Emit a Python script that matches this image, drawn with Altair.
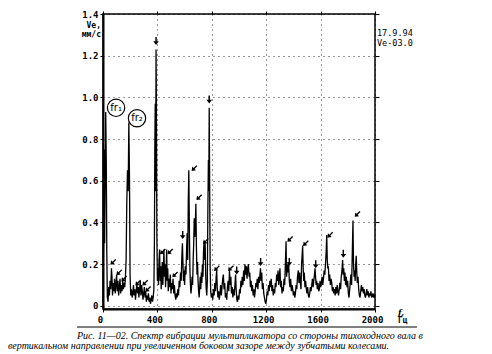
import altair as alt
import pandas as pd

# ---- spectrum (frequency, Hz / velocity, mm/s) ----
freq = [0, 5, 9, 12, 16, 20, 24, 28, 32, 37, 42, 47, 52, 57, 62, 66, 70, 75, 80, 85,
        90, 95, 100, 105, 110, 115, 120, 125, 130, 135, 140, 145, 150, 155, 160, 165, 170, 175, 180, 185,
        190, 195, 199, 204, 209, 214, 219, 224, 229, 234, 239, 244, 249, 254, 259, 264, 269, 274, 279, 284,
        289, 294, 299, 304, 309, 314, 319, 324, 329, 334, 339, 344, 349, 354, 359, 364, 369, 374, 378, 381,
        384, 387, 390, 393, 396, 400, 404, 408, 412, 416, 420, 424, 428, 432, 436, 440, 444, 448, 452, 456,
        460, 464, 468, 472, 476, 480, 485, 490, 495, 500, 505, 510, 515, 520, 525, 530, 535, 540, 545, 550,
        555, 560, 565, 570, 575, 580, 584, 588, 592, 596, 600, 605, 610, 615, 619, 623, 627, 631, 635, 639,
        643, 647, 651, 655, 659, 663, 667, 671, 675, 679, 683, 687, 691, 695, 699, 703, 707, 711, 715, 719,
        723, 727, 731, 735, 739, 743, 747, 751, 755, 759, 763, 767, 771, 775, 778, 781, 784, 788, 792, 797,
        802, 807, 812, 817, 822, 827, 832, 836, 840, 845, 850, 855, 860, 865, 870, 875, 880, 885, 890, 895,
        900, 905, 910, 915, 920, 925, 930, 935, 940, 945, 950, 955, 960, 965, 970, 975, 979, 984, 989, 994,
        999, 1004, 1009, 1014, 1019, 1024, 1029, 1034, 1039, 1044, 1049, 1054, 1059, 1064, 1069, 1074, 1079, 1084, 1089, 1094,
        1099, 1104, 1109, 1114, 1119, 1124, 1129, 1134, 1139, 1144, 1149, 1154, 1158, 1162, 1167, 1172, 1177, 1182, 1187, 1192,
        1197, 1202, 1207, 1212, 1217, 1222, 1227, 1232, 1237, 1242, 1247, 1252, 1257, 1262, 1267, 1272, 1277, 1282, 1287, 1292,
        1297, 1301, 1306, 1311, 1316, 1321, 1326, 1331, 1336, 1341, 1346, 1350, 1355, 1360, 1365, 1370, 1375, 1380, 1385, 1390,
        1395, 1400, 1405, 1410, 1415, 1420, 1425, 1430, 1436, 1441, 1446, 1451, 1456, 1460, 1464, 1468, 1472, 1476, 1480, 1485,
        1490, 1495, 1500, 1505, 1510, 1515, 1520, 1525, 1530, 1535, 1540, 1545, 1550, 1555, 1559, 1563, 1567, 1571, 1576, 1581,
        1586, 1591, 1596, 1601, 1606, 1611, 1616, 1621, 1626, 1631, 1636, 1641, 1645, 1649, 1653, 1657, 1662, 1667, 1672, 1677,
        1682, 1687, 1692, 1697, 1702, 1707, 1712, 1717, 1722, 1727, 1732, 1737, 1742, 1747, 1752, 1757, 1762, 1766, 1770, 1775,
        1779, 1784, 1789, 1794, 1799, 1804, 1809, 1814, 1819, 1823, 1828, 1833, 1838, 1842, 1846, 1850, 1854, 1858, 1862, 1866,
        1870, 1875, 1880, 1885, 1890, 1895, 1900, 1905, 1910, 1915, 1920, 1925, 1930, 1935, 1940, 1945, 1950, 1955, 1960, 1965,
        1970, 1975, 1980, 1985, 1990, 1995, 2000]
vel = [0.02, 0.38, 0.75, 0.30, 0.62, 0.93, 0.70, 0.25, 0.04, 0.02, 0.09, 0.05, 0.12, 0.08, 0.18, 0.14, 0.05, 0.11, 0.07, 0.13,
       0.06, 0.10, 0.15, 0.07, 0.12, 0.05, 0.09, 0.13, 0.06, 0.10, 0.07, 0.12, 0.08, 0.11, 0.09, 0.14, 0.22, 0.50, 0.65, 0.55,
       0.88, 0.60, 0.15, 0.05, 0.08, 0.04, 0.06, 0.10, 0.05, 0.08, 0.03, 0.07, 0.11, 0.06, 0.09, 0.04, 0.08, 0.12, 0.05, 0.10,
       0.07, 0.03, 0.06, 0.09, 0.04, 0.07, 0.02, 0.05, 0.03, 0.06, 0.02, 0.04, 0.01, 0.03, 0.05, 0.02, 0.04, 0.08, 0.30, 0.75,
       0.97, 0.55, 1.23, 0.90, 0.35, 0.12, 0.18, 0.10, 0.22, 0.27, 0.12, 0.19, 0.08, 0.15, 0.21, 0.10, 0.18, 0.27, 0.14, 0.20,
       0.09, 0.16, 0.27, 0.12, 0.18, 0.07, 0.13, 0.09, 0.15, 0.06, 0.11, 0.08, 0.13, 0.06, 0.10, 0.05, 0.03, 0.06, 0.04, 0.08,
       0.05, 0.12, 0.09, 0.16, 0.12, 0.24, 0.30, 0.20, 0.12, 0.17, 0.10, 0.19, 0.15, 0.28, 0.35, 0.22, 0.50, 0.65, 0.38, 0.18,
       0.10, 0.06, 0.09, 0.14, 0.10, 0.22, 0.30, 0.42, 0.33, 0.40, 0.49, 0.28, 0.15, 0.21, 0.12, 0.07, 0.04, 0.09, 0.14, 0.08,
       0.16, 0.11, 0.20, 0.14, 0.26, 0.31, 0.22, 0.30, 0.15, 0.08, 0.05, 0.12, 0.45, 0.70, 0.55, 0.95, 0.62, 0.18, 0.07, 0.04,
       0.06, 0.03, 0.08, 0.05, 0.11, 0.07, 0.14, 0.17, 0.09, 0.04, 0.07, 0.03, 0.06, 0.10, 0.05, 0.09, 0.13, 0.15, 0.08, 0.11,
       0.04, 0.06, 0.03, 0.09, 0.12, 0.07, 0.17, 0.10, 0.14, 0.06, 0.09, 0.04, 0.08, 0.05, 0.10, 0.15, 0.08, 0.03, 0.02, 0.05,
       0.03, 0.08, 0.06, 0.12, 0.09, 0.14, 0.10, 0.17, 0.12, 0.20, 0.15, 0.19, 0.13, 0.18, 0.20, 0.14, 0.16, 0.09, 0.12, 0.07,
       0.10, 0.05, 0.08, 0.04, 0.07, 0.11, 0.09, 0.13, 0.08, 0.14, 0.11, 0.15, 0.18, 0.12, 0.16, 0.08, 0.11, 0.06, 0.04, 0.02,
       0.01, 0.03, 0.07, 0.05, 0.10, 0.07, 0.12, 0.09, 0.13, 0.07, 0.10, 0.05, 0.08, 0.06, 0.11, 0.09, 0.15, 0.12, 0.17, 0.10,
       0.14, 0.18, 0.09, 0.12, 0.06, 0.09, 0.07, 0.13, 0.10, 0.20, 0.31, 0.14, 0.20, 0.16, 0.21, 0.12, 0.09, 0.13, 0.07, 0.10,
       0.08, 0.05, 0.07, 0.04, 0.06, 0.10, 0.08, 0.14, 0.17, 0.11, 0.16, 0.11, 0.08, 0.20, 0.24, 0.29, 0.18, 0.12, 0.16, 0.09,
       0.12, 0.08, 0.06, 0.09, 0.05, 0.04, 0.06, 0.09, 0.07, 0.10, 0.13, 0.09, 0.12, 0.15, 0.18, 0.14, 0.10, 0.12, 0.08, 0.11,
       0.07, 0.08, 0.12, 0.09, 0.11, 0.14, 0.10, 0.13, 0.17, 0.15, 0.20, 0.26, 0.34, 0.22, 0.18, 0.19, 0.12, 0.15, 0.10, 0.13,
       0.11, 0.07, 0.09, 0.06, 0.08, 0.05, 0.09, 0.06, 0.10, 0.07, 0.05, 0.08, 0.11, 0.08, 0.14, 0.17, 0.22, 0.15, 0.18, 0.12,
       0.16, 0.10, 0.14, 0.09, 0.12, 0.06, 0.04, 0.08, 0.12, 0.15, 0.10, 0.25, 0.41, 0.20, 0.14, 0.17, 0.12, 0.20, 0.24, 0.16,
       0.11, 0.14, 0.08, 0.05, 0.04, 0.07, 0.10, 0.07, 0.09, 0.06, 0.08, 0.05, 0.04, 0.06, 0.08, 0.05, 0.07, 0.04, 0.06, 0.05,
       0.07, 0.04, 0.05, 0.06, 0.04, 0.05, 0.04]

# ---- arrow marks on the spectrum: straight-down ones and down-left ones ----
down_f = [390, 781, 586, 983, 1159, 1370, 1564, 1767]
down_v = [1.27, 0.99, 0.34, 0.17, 0.21, 0.21, 0.20, 0.25]
diag_f = [74, 118, 154, 257, 309, 331, 439, 493, 529, 671, 706, 755, 836, 939, 1375, 1490, 1669, 1870]
diag_v = [0.21, 0.16, 0.13, 0.11, 0.11, 0.08, 0.26, 0.26, 0.15, 0.66, 0.52, 0.31, 0.18, 0.18, 0.32, 0.30, 0.34, 0.44]

# ---- circled rotor-frequency labels ----
fr_f = [96, 250]
fr_v = [0.95, 0.90]
fr_label = ["fr₁", "fr₂"]

x_ticks = [0, 400, 800, 1200, 1600, 2000]
y_ticks = [0, 0.2, 0.4, 0.6, 0.8, 1.0, 1.2, 1.4]
y_title = ["Ve,", "мм/с"]
x_title = ["f,", "Гц"]
stamp = ["17.9.94", "Ve-03.0"]
caption = ["Рис. 11—02. Спектр вибрации мультипликатора со стороны тихоходного вала в",
           "вертикальном направлении при увеличенном боковом зазоре между зубчатыми колесами."]

spec = pd.DataFrame({"f": freq, "v": vel})
downs = pd.DataFrame({"f": down_f, "v": down_v})
diags = pd.DataFrame({"f": diag_f, "v": diag_v})
frs = pd.DataFrame({"f": fr_f, "v": fr_v, "t": fr_label})
one = pd.DataFrame({"k": [0]})

xs = alt.Scale(domain=[0, 2000], nice=False, zero=False)
ys = alt.Scale(domain=[-0.015, 1.4], nice=False, zero=False)

FONT = "DejaVu Sans Mono"
ARROW = "M-0.18,-1L0.18,-1L0.18,0.05L0.7,0.05L0,1L-0.7,0.05L-0.18,0.05Z"

line = alt.Chart(spec).mark_line(color="black", strokeWidth=1.3).encode(
    x=alt.X("f:Q", scale=xs, axis=alt.Axis(
        values=x_ticks, format="d", grid=True, gridDash=[1, 4], gridColor="black", gridOpacity=0.8,
        labelFont=FONT, labelFontWeight="bold", labelFontSize=9, labelColor="black",
        labelOffset=-3, labelPadding=3, labelFlush=False, tickSize=3, tickColor="black",
        domainColor="black", domainWidth=2, title=None)),
    y=alt.Y("v:Q", scale=ys, axis=alt.Axis(
        values=y_ticks, labelExpr="datum.value == 0 ? '0' : format(datum.value, '.1f')",
        grid=True, gridDash=[1, 4], gridColor="black", gridOpacity=0.8,
        labelFont=FONT, labelFontWeight="bold", labelFontSize=9, labelColor="black",
        labelPadding=2, tickSize=3, tickColor="black", domainColor="black", domainWidth=2,
        title=None)),
)

down_layer = alt.Chart(downs).mark_point(shape=ARROW, size=64, filled=True, color="black",
                                         opacity=1, strokeWidth=0).encode(
    x=alt.X("f:Q", scale=xs, axis=alt.Axis(orient="top", values=x_ticks, labels=False, ticks=True,
                                             tickSize=3, tickColor="black", grid=False, domain=False, title=None)),
    y=alt.Y("v:Q", scale=ys, axis=alt.Axis(orient="right", values=y_ticks, labels=False, ticks=True,
                                             tickSize=4, tickColor="black", grid=False, domain=False, title=None)),
)
diag_layer = alt.Chart(diags).mark_point(shape=ARROW, size=56, filled=True, color="black",
                                         opacity=1, strokeWidth=0, angle=45).encode(
    x=alt.X("f:Q", scale=xs, axis=None), y=alt.Y("v:Q", scale=ys, axis=None))

fr_circles = alt.Chart(frs).mark_point(shape="circle", size=300, filled=False, color="black",
                                       strokeWidth=1.2, opacity=1).encode(
    x=alt.X("f:Q", scale=xs, axis=None), y=alt.Y("v:Q", scale=ys, axis=None))
fr_text = alt.Chart(frs).mark_text(font="DejaVu Sans", fontSize=10, color="black").encode(
    x=alt.X("f:Q", scale=xs, axis=None), y=alt.Y("v:Q", scale=ys, axis=None), text="t:N")


def label(txt, x, y, size=8, font=FONT, weight="bold", align="left", style="normal"):
    return alt.Chart(one).mark_text(font=font, fontSize=size, fontWeight=weight, align=align,
                                    fontStyle=style, baseline="middle", color="black").encode(
        x=alt.value(x), y=alt.value(y), text=alt.value(txt))


texts = [
    label(y_title[0], -2, 12, align="right"),
    label(y_title[1], -2, 21, align="right"),
    label(stamp[0], 274, 19, size=8.5, weight="normal"),
    label(stamp[1], 274, 29, size=8.5, weight="normal"),
    label(x_title[0], 295, 299, font="DejaVu Serif", style="italic"),
    label(x_title[1], 295, 307),
    label(caption[0], -26, 322, size=10, font="Liberation Serif", weight="normal", style="italic"),
    label(caption[1], -95, 332, size=10, font="Liberation Serif", weight="normal", style="italic"),
]

rule = alt.Chart(one).mark_rule(color="black", strokeWidth=1).encode(
    x=alt.value(-26), x2=alt.value(314), y=alt.value(313))

chart = alt.layer(line, down_layer, diag_layer, fr_circles, fr_text, rule, *texts).resolve_axis(
    x="independent", y="independent"
).properties(
    width=272, height=295,
    padding={"left": 95, "top": 6, "right": 109, "bottom": 43},
    autosize=alt.AutoSizeParams(type="none"),
).configure_view(stroke="black", strokeWidth=1.5)

chart.save("out.html", embed_options={"renderer": "svg", "actions": False})
